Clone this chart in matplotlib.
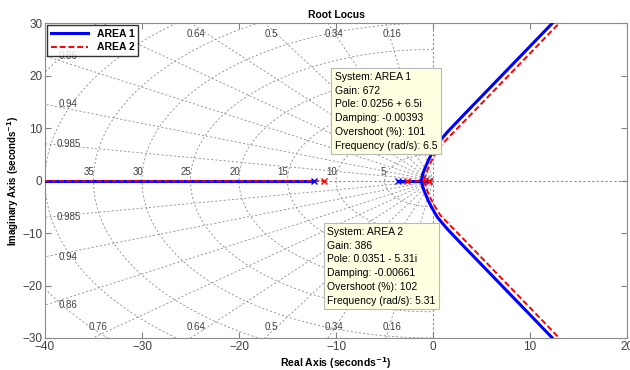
import numpy as np
import matplotlib
matplotlib.use("Agg")
from matplotlib import pyplot as plt

plt.rcParams['font.family'] = ['Liberation Sans', 'DejaVu Sans']

# root locus branches (upper half, lower half is the conjugate)
area1_re = [-1.2, -1.05, -0.8, -0.5, -0.15, 0.45, 1.5, 3.1, 6.5, 9.9, 12.3, 13.0]
area1_im = [0.0, 1.3, 2.5, 3.8, 5.1, 7.0, 9.3, 12.4, 18.9, 25.4, 30.0, 31.4]
area2_re = [-0.9, -0.75, -0.5, -0.2, 0.15, 0.75, 1.9, 3.8, 7.2, 10.6, 13.0, 13.7]
area2_im = [0.0, 1.2, 2.4, 3.6, 4.8, 6.6, 8.8, 12.4, 18.9, 25.4, 30.0, 31.4]

# real-axis segments [start, end]
area1_real = [[-45, -12.3], [-3.6, -0.4]]
area2_real = [[-45, -11.2], [-2.7, -0.4]]
area1_poles = [-12.3, -3.6, -0.4]
area2_poles = [-11.2, -2.7, -0.4]

# s-grid
zetas = [0.16, 0.34, 0.5, 0.64, 0.76, 0.86, 0.94, 0.985]
wn_labels = [5, 10, 15, 20, 25, 30, 35]
wn_circles = [5, 10, 15, 20, 25, 30, 35, 40, 45, 50]

tip1 = ["System: AREA 1", "Gain: 672", "Pole: 0.0256 + 6.5i", "Damping: -0.00393",
        "Overshoot (%): 101", "Frequency (rad/s): 6.5"]
tip2 = ["System: AREA 2", "Gain: 386", "Pole: 0.0351 - 5.31i", "Damping: -0.00661",
        "Overshoot (%): 102", "Frequency (rad/s): 5.31"]

xmin, xmax, ymin, ymax = -40, 20, -30, 30

fig = plt.figure(figsize=(6.3, 3.7), dpi=100)
ax = fig.add_axes([0.0714, 0.0865, 0.924, 0.851])

gcol = '0.55'
gls = (0, (2.5, 2.5))
# damping rays
for z in zetas:
    th = np.arccos(z)
    r = 80
    for s in (1, -1):
        ax.plot([0, -r * np.cos(th)], [0, s * r * np.sin(th)], color=gcol, lw=0.6, ls=gls, zorder=1)
        # label at boundary (the upper 0.76 one sits under the legend)
        xe = -ymax * z / np.sqrt(1 - z * z)
        if xe >= xmin + 2:
            if s == 1 and xe < -32:
                continue
            ax.text(xe + 0.6, s * 28.0, f"{z:g}", fontsize=7, color='0.25',
                    ha='center', va='center', zorder=2)
        else:
            ye = -xmin * np.sqrt(1 - z * z) / z
            ax.text(-37.6, s * ye, f"{z:g}", fontsize=7, color='0.25',
                    ha='center', va='center', zorder=2)
# natural frequency semicircles
t = np.linspace(np.pi / 2, 3 * np.pi / 2, 200)
for w in wn_circles:
    ax.plot(w * np.cos(t), w * np.sin(t), color=gcol, lw=0.6, ls=gls, zorder=1)
for w in wn_labels:
    ax.text(-w + 0.1, 0.6, f"{w}", fontsize=7, color='0.25', ha='right', va='bottom', zorder=2)
ax.axhline(0, color=gcol, lw=0.8, ls=(0, (2, 2)), zorder=1)
ax.axvline(0, color=gcol, lw=0.8, ls=(0, (2, 2)), zorder=1)

# AREA 1
re1 = np.array(area1_re)
im1 = np.array(area1_im)
ax.plot(re1, im1, color='#0000ff', lw=2.2, zorder=3, label='AREA 1')
ax.plot(re1, -im1, color='#0000ff', lw=2.2, zorder=3)
for a, b in area1_real:
    ax.plot([a, b], [0, 0], color='#0000ff', lw=2.2, zorder=3)
ax.plot(area1_poles, [0] * len(area1_poles), 'x', color='#0000ff', ms=4, mew=1, zorder=5)

# AREA 2
re2 = np.array(area2_re)
im2 = np.array(area2_im)
ax.plot(re2, im2, color='#ff0000', lw=1.4, ls=(0, (3, 1.5)), zorder=4, label='AREA 2')
ax.plot(re2, -im2, color='#ff0000', lw=1.4, ls=(0, (3, 1.5)), zorder=4)
for a, b in area2_real:
    ax.plot([a, b], [0, 0], color='#ff0000', lw=1.2, ls=(0, (3, 1.5)), zorder=4)
ax.plot(area2_poles, [0] * len(area2_poles), 'x', color='#ff0000', ms=4, mew=1, zorder=5)

# data tips
box = dict(boxstyle='square,pad=0.35', fc='#ffffe1', ec='#b8b8b8', lw=0.8)
ax.text(-10.1, 20.7, "\n".join(tip1), fontsize=7.5, va='top', ha='left',
        linespacing=1.47, bbox=box, zorder=6)
ax.text(-10.9, -8.8, "\n".join(tip2), fontsize=7.5, va='top', ha='left',
        linespacing=1.47, bbox=box, zorder=6)

ax.set_xlim(xmin, xmax)
ax.set_ylim(ymin, ymax)
ax.set_xticks(np.arange(-40, 21, 10))
ax.set_yticks(np.arange(-30, 31, 10))
ax.tick_params(direction='in', top=True, right=True, length=4, width=0.8,
               colors='0.5', labelcolor='0.25', labelsize=8.5, pad=2)
for sp in ax.spines.values():
    sp.set_color('0.55')
    sp.set_linewidth(0.8)

ax.set_title("Root Locus", fontsize=7.5, fontweight='bold', pad=4)
ax.set_xlabel("Real Axis (seconds$^{\\mathbf{-1}}$)", fontsize=7.5, fontweight='bold', labelpad=2)
ax.set_ylabel("Imaginary Axis (seconds$^{\\mathbf{-1}}$)", fontsize=7, fontweight='bold', labelpad=1)

leg = ax.legend(loc='upper left', frameon=True, fancybox=False,
                handlelength=3.6, borderpad=0.35, labelspacing=0.35, borderaxespad=0.2,
                prop={'weight': 'bold', 'size': 7.5}, bbox_to_anchor=(0.0, 1.0))
leg.get_frame().set_edgecolor('black')
leg.get_frame().set_linewidth(1.0)
leg.set_zorder(10)

fig.savefig("out.png", dpi=100)
